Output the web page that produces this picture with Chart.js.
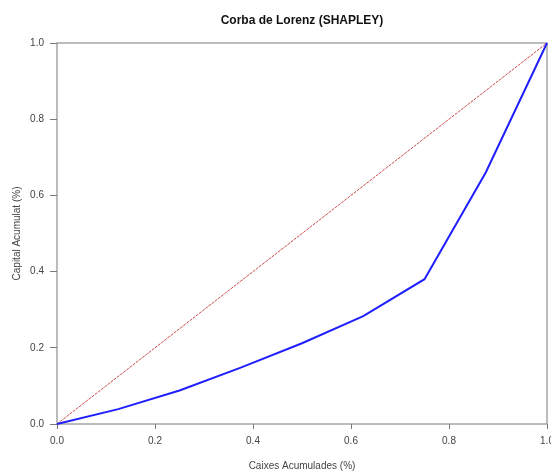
<!DOCTYPE html>
<html>
<head>
<meta charset="utf-8">
<script src="https://cdn.jsdelivr.net/npm/chart.js@4"></script>
<style>
	html, body { margin: 0; padding: 0; background: #fff; }
	#wrap { width: 551px; height: 471px; }
</style>
</head>
<body>
<div id="wrap"><canvas id="chart" width="551" height="471"></canvas></div>
<script>
// valors de la corba de Lorenz
const caixes = [0, 0.125, 0.25, 0.375, 0.5, 0.625, 0.75, 0.875, 1]
const capital = [0, 0.039, 0.088, 0.148, 0.212, 0.283, 0.38, 0.66, 1]
const igualtatX = [0, 1]
const igualtatY = [0, 1]
const ticks = [0, 0.2, 0.4, 0.6, 0.8, 1]

const axisColor = '#7a7a7a'
const textColor = '#444444'
const fontFamily = '"Liberation Sans", Arial, sans-serif'

const boxPlugin = {
	id: 'box',
	beforeDatasetsDraw(chart) {
		const { ctx, chartArea } = chart
		ctx.save()
		ctx.strokeStyle = axisColor
		ctx.lineWidth = 1
		ctx.strokeRect(chartArea.left, chartArea.top, chartArea.right - chartArea.left, chartArea.bottom - chartArea.top)
		ctx.restore()
	},
}

const ctx = document.getElementById('chart').getContext('2d')

const chart = new Chart(ctx, {
	type: 'scatter',
	data: {
		datasets: [
			{
				data: caixes.map((x, i) => ({ x: x, y: capital[i] })),
				showLine: true,
				borderColor: '#1f1fff',
				borderWidth: 2,
				pointRadius: 0,
				tension: 0,
				clip: false,
			},
			{
				data: igualtatX.map((x, i) => ({ x: x, y: igualtatY[i] })),
				showLine: true,
				borderColor: 'rgba(195, 55, 55, 0.9)',
				borderWidth: 1,
				borderDash: [3, 1],
				pointRadius: 0,
				clip: false,
			},
		],
	},
	options: {
		responsive: false,
		animation: false,
		layout: { padding: { left: 0, right: 4, top: 0, bottom: 0 } },
		plugins: {
			legend: { display: false },
			tooltip: { enabled: false },
			title: {
				display: true,
				fullSize: false,
				text: 'Corba de Lorenz (SHAPLEY)',
				color: '#111111',
				font: { family: fontFamily, size: 12, weight: 'bold' },
				padding: { top: 13.5, bottom: 15.1 },
			},
		},
		scales: {
			x: {
				type: 'linear',
				min: 0,
				max: 1,
				afterBuildTicks: (scale) => { scale.ticks = ticks.map((v) => ({ value: v })) },
				afterFit: (scale) => {
					scale.height = 47
					scale.paddingLeft = 0
					scale.paddingRight = 0
				},
				ticks: {
					color: textColor,
					font: { family: fontFamily, size: 10 },
					padding: 6,
					maxRotation: 0,
					callback: (v) => Number(v).toFixed(1),
				},
				grid: { drawOnChartArea: false, drawTicks: true, tickLength: 5, color: axisColor },
				border: { display: false },
				title: {
					display: true,
					text: 'Caixes Acumulades (%)',
					color: textColor,
					font: { family: fontFamily, size: 10, lineHeight: 1 },
					padding: { top: 0, bottom: 0 },
				},
			},
			y: {
				type: 'linear',
				min: 0,
				max: 1,
				afterBuildTicks: (scale) => { scale.ticks = ticks.map((v) => ({ value: v })) },
				afterFit: (scale) => {
					scale.width = 57
				},
				ticks: {
					color: textColor,
					font: { family: fontFamily, size: 10 },
					padding: 6,
					callback: (v) => Number(v).toFixed(1),
				},
				grid: { drawOnChartArea: false, drawTicks: true, tickLength: 7, color: axisColor },
				border: { display: false },
				title: {
					display: true,
					text: 'Capital Acumulat (%)',
					color: textColor,
					font: { family: fontFamily, size: 10 },
					padding: { top: 11, bottom: 11 },
				},
			},
		},
	},
	plugins: [boxPlugin],
})
</script>
</body>
</html>
